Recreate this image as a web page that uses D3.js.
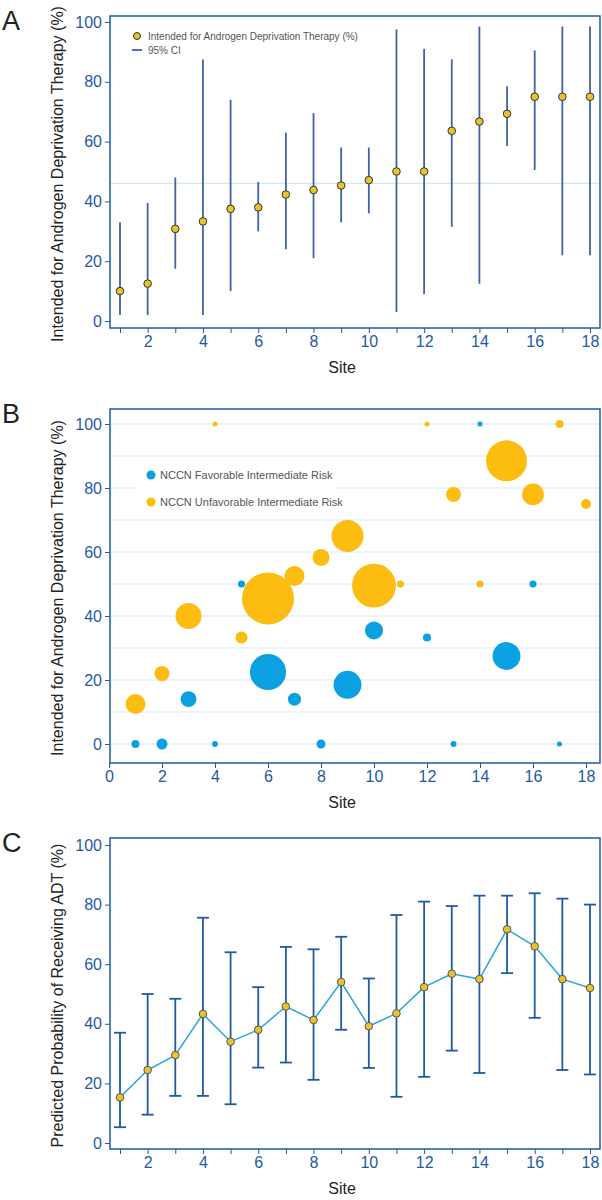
<!DOCTYPE html>
<html><head><meta charset="utf-8">
<script src="https://cdn.jsdelivr.net/npm/d3@7"></script>
<style>body{margin:0;background:#fff}svg{font-family:"Liberation Sans",Arial,sans-serif}</style>
</head><body><svg id="c" width="602" height="1200"></svg>
<script>
const sites = d3.range(1, 19);
// Panel A
const aValue = [10,12.5,30.8,33.3,37.5,38,42.3,43.8,45.3,47.1,50,50,63.6,66.7,69.3,75,75,75];
const aLow   = [2,2,17.5,2,10,30,24,21,33,36,3,9,31.5,12.5,58.5,50.5,22,22];
const aHigh  = [33,39.5,48,87.5,74,46.5,63,69.5,58,58,97.5,91,87.5,98.5,78.5,90.5,98.5,98.5];
const aRef = 46;
// Panel B
const bFavY = [0,0,14,0,50,22.5,14,0,18.5,35.5,33.3,0,100,27.5,50,0];
const bFavSite = [1,2,3,4,5,6,7,8,9,10,12,13,14,15,16,17];
const bFavN = [2.6,4.8,10,1.4,2,52,6.8,3.2,31,13,2.6,1.4,1,31,2,1];
const bUnfSite = [1,2,3,4,5,6,7,8,9,10,11,12,13,14,15,16,17,18];
const bUnfY = [12.5,22,40,100,33.3,45.5,52.5,58.3,65,49.5,50,100,78,50,88.5,78,100,75];
const bUnfN = [16,9,27,1,5.8,108,16,11.6,41,77,2,1,9,2,67,19,2.6,4];
// Panel C
const cValue = [15.3,24.5,29.5,43.3,34,38,45.8,41.3,54,39.2,43.5,52.3,56.8,55,71.7,66,55,52];
const cLow   = [5.3,9.5,15.8,15.8,13,25.3,27,21.2,38,25.2,15.5,22.2,31,23.5,57,42,24.5,23];
const cHigh  = [37,50,48.4,75.6,64,52.3,65.8,65,69.2,55.2,76.5,81,79.5,83,83,83.8,82,80];
const yTicks = [0,20,40,60,80,100];

const svg = d3.select("#c");
const AX = "#1f5aa6", DOT = "#e9c32b", LINE = "#2aa6dc", BLUE = "#0aa0e2", GOLD = "#fdbd10", GRID = "#e2f0f8";

function panel(o){
  const g = svg.append("g");
  g.append("text").attr("x",2).attr("y",o.top+14).attr("font-size",27).attr("fill","#222").text(o.letter);
  const x = d3.scaleLinear().domain(o.xd).range(o.xr);
  const y = d3.scaleLinear().domain([0,100]).range([o.y0,o.y100]);
  if(o.grid) g.append("g").selectAll("line").data(d3.range(0,101,10)).join("line")
     .attr("x1",111).attr("x2",599).attr("y1",d=>y(d)).attr("y2",d=>y(d)).attr("stroke",GRID).attr("stroke-width",1.5);
  const ya = g.append("g").attr("transform",`translate(110,0)`).call(d3.axisLeft(y).tickValues(yTicks).tickSize(5).tickPadding(3));
  const xa = g.append("g").attr("transform",`translate(0,${o.bottom})`).call(d3.axisBottom(x).tickValues(o.xticks).tickSize(5).tickPadding(3).tickFormat(d=>o.xlab(d)?d:""));
  [ya,xa].forEach(a=>{a.select(".domain").remove();a.selectAll("line").attr("stroke",AX);a.selectAll("text").attr("fill",AX).attr("font-size",16);});
  g.append("rect").attr("x",110).attr("y",o.top).attr("width",490).attr("height",o.bottom-o.top).attr("fill","none").attr("stroke",AX).attr("stroke-width",1.5);
  g.append("text").attr("x",342).attr("y",o.bottom+45).attr("text-anchor","middle").attr("font-size",16).attr("fill","#222").text("Site");
  g.append("text").attr("transform",`translate(63,${(o.top+o.bottom)/2+2}) rotate(-90)`).attr("text-anchor","middle").attr("font-size",16).attr("fill","#222").text(o.ytitle);
  return {g,x,y};
}

// A
{
  const {g,x,y} = panel({letter:"A",top:16,bottom:328,y0:321,y100:22,xd:[1,18],xr:[120,590],xticks:sites,xlab:d=>d%2==0,ytitle:"Intended for Androgen Deprivation Therapy (%)"});
  g.append("line").attr("x1",111).attr("x2",599).attr("y1",y(aRef)).attr("y2",y(aRef)).attr("stroke","#cfe8f5").attr("stroke-width",1.2);
  g.selectAll(".ci").data(sites).join("line").attr("x1",d=>x(d)).attr("x2",d=>x(d)).attr("y1",(d,i)=>y(aLow[i])).attr("y2",(d,i)=>y(aHigh[i])).attr("stroke","#3f63a8").attr("stroke-width",1.8);
  g.selectAll(".pt").data(sites).join("circle").attr("cx",d=>x(d)).attr("cy",(d,i)=>y(aValue[i])).attr("r",3.8).attr("fill",DOT).attr("stroke","#333").attr("stroke-width",1);
  g.append("circle").attr("cx",137).attr("cy",36).attr("r",3.5).attr("fill",DOT).attr("stroke","#333");
  g.append("text").attr("x",148).attr("y",40).attr("font-size",10).attr("fill","#555").text("Intended for Androgen Deprivation Therapy (%)");
  g.append("line").attr("x1",132).attr("x2",142).attr("y1",50).attr("y2",50).attr("stroke","#3f63a8").attr("stroke-width",1.8);
  g.append("text").attr("x",148).attr("y",54).attr("font-size",10).attr("fill","#555").text("95% CI");
}
// B
{
  const {g,x,y} = panel({letter:"B",top:409,bottom:763,y0:744,y100:424,xd:[0,18],xr:[109,586],xticks:d3.range(0,19,2),xlab:d=>true,grid:true,ytitle:"Intended for Androgen Deprivation Therapy (%)"});
  const r = d3.scaleSqrt().domain([0,108]).range([0,26]);
  g.append("rect").attr("x",135).attr("y",462).attr("width",200).attr("height",50).attr("fill","#fff");
  g.selectAll(".u").data(bUnfSite).join("circle").attr("cx",d=>x(d)).attr("cy",(d,i)=>y(bUnfY[i])).attr("r",(d,i)=>r(bUnfN[i])).attr("fill",GOLD);
  g.selectAll(".f").data(bFavSite).join("circle").attr("cx",d=>x(d)).attr("cy",(d,i)=>y(bFavY[i])).attr("r",(d,i)=>r(bFavN[i])).attr("fill",BLUE);
  g.append("circle").attr("cx",151).attr("cy",475).attr("r",4.5).attr("fill",BLUE);
  g.append("text").attr("x",160).attr("y",479).attr("font-size",11).attr("fill","#555").text("NCCN Favorable Intermediate Risk");
  g.append("circle").attr("cx",151).attr("cy",502).attr("r",4.5).attr("fill",GOLD);
  g.append("text").attr("x",160).attr("y",506).attr("font-size",11).attr("fill","#555").text("NCCN Unfavorable Intermediate Risk");
}
// C
{
  const {g,x,y} = panel({letter:"C",top:838,bottom:1149,y0:1143,y100:845,xd:[1,18],xr:[120,590],xticks:sites,xlab:d=>d%2==0,ytitle:"Predicted Probability of Receiving ADT (%)"});
  const eb = g.selectAll(".eb").data(sites).join("g").attr("stroke",AX).attr("stroke-width",1.8);
  eb.append("line").attr("x1",d=>x(d)).attr("x2",d=>x(d)).attr("y1",(d,i)=>y(cLow[i])).attr("y2",(d,i)=>y(cHigh[i]));
  eb.append("line").attr("x1",d=>x(d)-6).attr("x2",d=>x(d)+6).attr("y1",(d,i)=>y(cLow[i])).attr("y2",(d,i)=>y(cLow[i]));
  eb.append("line").attr("x1",d=>x(d)-6).attr("x2",d=>x(d)+6).attr("y1",(d,i)=>y(cHigh[i])).attr("y2",(d,i)=>y(cHigh[i]));
  g.append("path").datum(sites).attr("d",d3.line().x(d=>x(d)).y((d,i)=>y(cValue[i]))).attr("fill","none").attr("stroke",LINE).attr("stroke-width",1.5);
  g.selectAll(".pt").data(sites).join("circle").attr("cx",d=>x(d)).attr("cy",(d,i)=>y(cValue[i])).attr("r",3.8).attr("fill",DOT).attr("stroke","#555").attr("stroke-width",1);
}
</script></body></html>
